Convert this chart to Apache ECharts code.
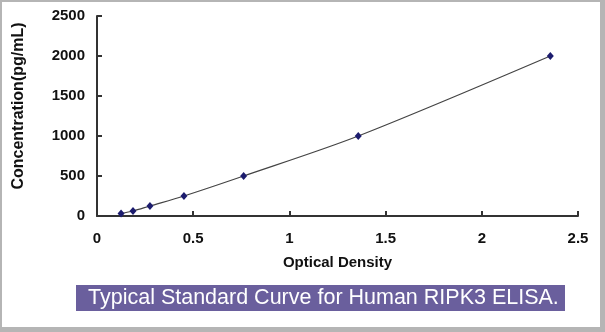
<!DOCTYPE html>
<html>
<head>
<meta charset="utf-8">
<script src="https://cdn.jsdelivr.net/npm/echarts@6/dist/echarts.min.js"></script>
<style>
  html, body { margin: 0; padding: 0; background: #ffffff; }
  #chart { width: 605px; height: 332px; }
</style>
</head>
<body>
<div id="chart"></div>
<script>
// Standard curve: optical density readings vs. known concentrations
const opticalDensity = [0.125, 0.187, 0.275, 0.452, 0.762, 1.358, 2.356];
const concentration = [31.25, 62.5, 125, 250, 500, 1000, 2000];
const xTicks = [0, 0.5, 1, 1.5, 2, 2.5];
const yTicks = [0, 500, 1000, 1500, 2000, 2500];
const xTitle = 'Optical Density';
const yTitle = 'Concentration(pg/mL)';
const caption = 'Typical Standard Curve for Human RIPK3 ELISA.';

const points = opticalDensity.map((od, i) => [od, concentration[i]]);

const chart = echarts.init(document.getElementById('chart'), null, { renderer: 'canvas' });

const fontFamily = 'Liberation Sans, Arial, sans-serif';
const boldFont = { fontFamily: fontFamily, fontWeight: 'bold', color: '#111' };

chart.setOption({
  animation: false,
  backgroundColor: '#ffffff',
  grid: { left: 97, top: 16, right: 27, bottom: 116, containLabel: false, outerBoundsMode: 'none' },
  xAxis: {
    type: 'value',
    min: xTicks[0],
    max: xTicks[xTicks.length - 1],
    interval: 0.5,
    name: xTitle,
    nameLocation: 'middle',
    nameGap: 39,
    nameTextStyle: Object.assign({ fontSize: 15 }, boldFont),
    axisLine: { show: true, onZero: false, lineStyle: { color: '#333', width: 2 } },
    axisTick: { show: true, inside: true, length: 5, lineStyle: { color: '#333', width: 2 } },
    axisLabel: Object.assign({ fontSize: 15, margin: 15, formatter: v => String(v) }, boldFont),
    splitLine: { show: false }
  },
  yAxis: {
    type: 'value',
    min: yTicks[0],
    max: yTicks[yTicks.length - 1],
    interval: 500,
    axisLine: { show: true, onZero: false, lineStyle: { color: '#333', width: 2 } },
    axisTick: { show: true, inside: true, length: 5, lineStyle: { color: '#333', width: 2 } },
    axisLabel: Object.assign({ fontSize: 15, margin: 12, formatter: v => String(v) }, boldFont),
    splitLine: { show: false }
  },
  series: [{
    type: 'line',
    data: points,
    smooth: 0.3,
    symbol: 'diamond',
    symbolSize: [7, 8],
    itemStyle: { color: '#1c1c6e' },
    lineStyle: { color: '#444444', width: 1.2 }
  }],
  graphic: [
    // vertical axis title
    {
      type: 'text', x: 19, y: 106, rotation: Math.PI / 2, z: 5,
      style: { text: yTitle, fontSize: 16, align: 'center', verticalAlign: 'middle', fill: '#111', fontFamily: fontFamily, fontWeight: 'bold' }
    },
    // caption band
    {
      type: 'rect', left: 76, top: 285, z: 10,
      shape: { width: 489, height: 26 },
      style: { fill: '#6a5f9d' }
    },
    {
      type: 'text', x: 88, y: 298, z: 11,
      style: { text: caption, fill: '#ffffff', fontSize: 21.5, fontFamily: fontFamily, verticalAlign: 'middle' }
    },
    // outer frame
    { type: 'rect', left: 0, top: 0, z: 20, shape: { width: 605, height: 2 }, style: { fill: '#b5b5b5' } },
    { type: 'rect', left: 0, top: 0, z: 20, shape: { width: 2, height: 332 }, style: { fill: '#b5b5b5' } },
    { type: 'rect', left: 600, top: 0, z: 20, shape: { width: 5, height: 332 }, style: { fill: '#b5b5b5' } },
    { type: 'rect', left: 0, top: 327, z: 20, shape: { width: 605, height: 5 }, style: { fill: '#b5b5b5' } }
  ]
});
</script>
</body>
</html>
